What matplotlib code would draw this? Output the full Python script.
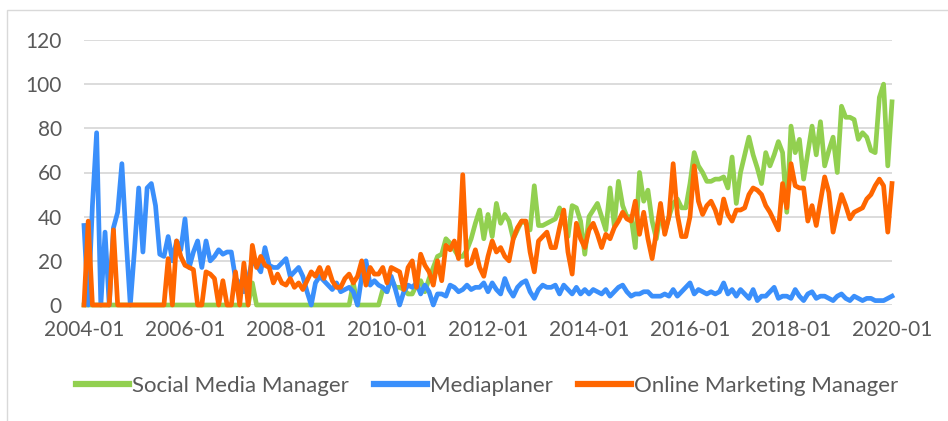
import matplotlib
matplotlib.use('Agg')
import matplotlib.pyplot as plt
from matplotlib.patches import Rectangle
import pandas as pd

# Monatswerte Jan 2004 bis Jan 2020 (Suchinteresse, 0-100)
months = pd.date_range('2004-01', periods=193, freq='MS').strftime('%Y-%m').tolist()

social_media_manager = (
    [0] * 12 +                                            # 2004
    [0] * 12 +                                            # 2005
    [0] * 12 +                                            # 2006
    [0, 0, 0, 0, 10, 0, 0, 0, 0, 0, 0, 0] +               # 2007
    [0] * 12 +                                            # 2008
    [0, 0, 0, 0, 10, 0, 0, 0, 0, 0, 0, 7] +               # 2009
    [6, 12, 8, 8, 7, 5, 5, 9, 11, 6, 12, 17] +            # 2010
    [22, 23, 30, 28, 25, 22, 22, 25, 30, 37, 43, 30] +    # 2011
    [41, 31, 46, 37, 41, 38, 30, 34, 38, 37, 34, 54] +    # 2012
    [36, 36, 37, 38, 39, 44, 38, 31, 45, 44, 38, 23] +    # 2013
    [40, 43, 46, 40, 34, 53, 36, 56, 45, 40, 40, 26] +    # 2014
    [60, 47, 52, 38, 30, 42, 33, 40, 46, 48, 44, 44] +    # 2015
    [55, 69, 63, 60, 56, 56, 57, 57, 58, 53, 67, 46] +    # 2016
    [60, 68, 76, 68, 62, 55, 69, 63, 68, 74, 69, 42] +    # 2017
    [81, 69, 75, 57, 69, 81, 68, 83, 63, 70, 76, 60] +    # 2018
    [90, 85, 85, 84, 75, 78, 76, 70, 69, 94, 100, 63] +   # 2019
    [92]                                                  # 2020
)

mediaplaner = (
    [36, 0, 45, 78, 0, 33, 0, 35, 42, 64, 30, 0] +
    [25, 53, 24, 53, 55, 45, 23, 22, 31, 20, 29, 25] +
    [39, 17, 24, 29, 17, 29, 20, 22, 25, 23, 24, 24] +
    [12, 10, 6, 12, 20, 18, 15, 26, 18, 17, 17, 19] +
    [21, 13, 15, 17, 13, 6, 0, 10, 13, 11, 9, 7] +
    [10, 6, 7, 8, 6, 0, 13, 20, 9, 11, 9, 8] +
    [6, 13, 7, 0, 6, 9, 8, 10, 5, 9, 6, 0] +
    [5, 5, 4, 9, 8, 6, 7, 9, 7, 8, 8, 10] +
    [6, 10, 7, 5, 12, 7, 4, 8, 10, 11, 6, 3] +
    [7, 9, 8, 8, 9, 5, 9, 7, 5, 8, 5, 7] +
    [5, 7, 6, 5, 7, 4, 6, 8, 9, 6, 4, 5] +
    [5, 6, 6, 4, 4, 4, 5, 4, 7, 4, 6, 8] +
    [10, 5, 7, 6, 5, 6, 5, 6, 10, 5, 7, 4] +
    [7, 5, 3, 7, 2, 4, 4, 6, 8, 3, 4, 4] +
    [3, 7, 4, 2, 5, 6, 3, 4, 4, 3, 2, 4] +
    [5, 3, 2, 4, 3, 2, 3, 3, 2, 2, 2, 3] +
    [4]
)

online_marketing_manager = (
    [0, 38, 0, 0, 0, 0, 0, 34, 0, 0, 0, 0] +
    [0, 0, 0, 0, 0, 0, 0, 0, 21, 0, 29, 22] +
    [18, 17, 16, 0, 0, 15, 14, 12, 0, 11, 0, 0] +
    [15, 0, 19, 0, 27, 17, 22, 18, 17, 10, 14, 10] +
    [9, 12, 8, 10, 7, 11, 15, 13, 17, 12, 17, 11] +
    [8, 8, 12, 14, 10, 13, 20, 9, 17, 14, 14, 17] +
    [10, 17, 16, 15, 7, 17, 20, 8, 23, 18, 15, 9] +
    [20, 11, 27, 25, 29, 21, 59, 18, 19, 25, 17, 13] +
    [22, 29, 24, 26, 22, 20, 30, 35, 38, 38, 24, 15] +
    [29, 31, 33, 26, 26, 35, 43, 24, 14, 37, 30, 26] +
    [34, 37, 32, 26, 32, 30, 35, 38, 42, 39, 38, 47] +
    [32, 42, 30, 21, 33, 46, 32, 40, 64, 41, 31, 31] +
    [40, 63, 47, 41, 45, 47, 43, 37, 48, 41, 38, 43] +
    [43, 44, 50, 53, 52, 50, 45, 42, 38, 34, 55, 44] +
    [64, 54, 53, 53, 38, 45, 36, 47, 58, 51, 33, 42] +
    [50, 45, 39, 42, 43, 44, 48, 50, 54, 57, 54, 33] +
    [55]
)

series = [
    ('Social Media Manager', social_media_manager, '#92d050'),
    ('Mediaplaner', mediaplaner, '#3a8ffb'),
    ('Online Marketing Manager', online_marketing_manager, '#ff6600'),
]

plt.rcParams['font.family'] = ['Lato', 'DejaVu Sans']
text_color = '#595959'

fig = plt.figure(figsize=(9.48, 4.21), dpi=100)
ax = fig.add_axes([84 / 948, 1 - 305 / 421, 808 / 948, 265 / 421])

x = list(range(len(months)))
for name, values, color in series:
    ax.plot(x, values, color=color, linewidth=3.4, label=name,
            solid_joinstyle='round', clip_on=False, zorder=3)

ax.set_xlim(0, len(months) - 1)
ax.set_ylim(0, 120)
ax.set_yticks(range(0, 121, 20))
ax.set_xticks(x[::24])
ax.set_xticklabels(months[::24])

ax.grid(axis='y', color='#d9d9d9', linewidth=1.3, zorder=0)
ax.set_axisbelow(True)
for side in ['top', 'right', 'left', 'bottom']:
    ax.spines[side].set_visible(False)
ax.tick_params(axis='both', length=0, labelsize=15, colors=text_color)
ax.tick_params(axis='y', pad=16)
ax.tick_params(axis='x', pad=11)

# Rahmen des Diagrammbereichs
fig.patches.append(Rectangle((7 / 948, -0.1), 1.2, 1.1 - 10 / 421,
                             transform=fig.transFigure, fill=False,
                             edgecolor='#d9d9d9', linewidth=1.0))

leg = fig.legend(loc='center', bbox_to_anchor=(487 / 948, 1 - 386 / 421),
                 ncol=3, frameon=False, fontsize=16, handlelength=2.4,
                 handletextpad=0.15, columnspacing=1.1)
for text in leg.get_texts():
    text.set_color(text_color)
for line in leg.get_lines():
    line.set_linewidth(4.5)

fig.savefig('out.png', dpi=100)
